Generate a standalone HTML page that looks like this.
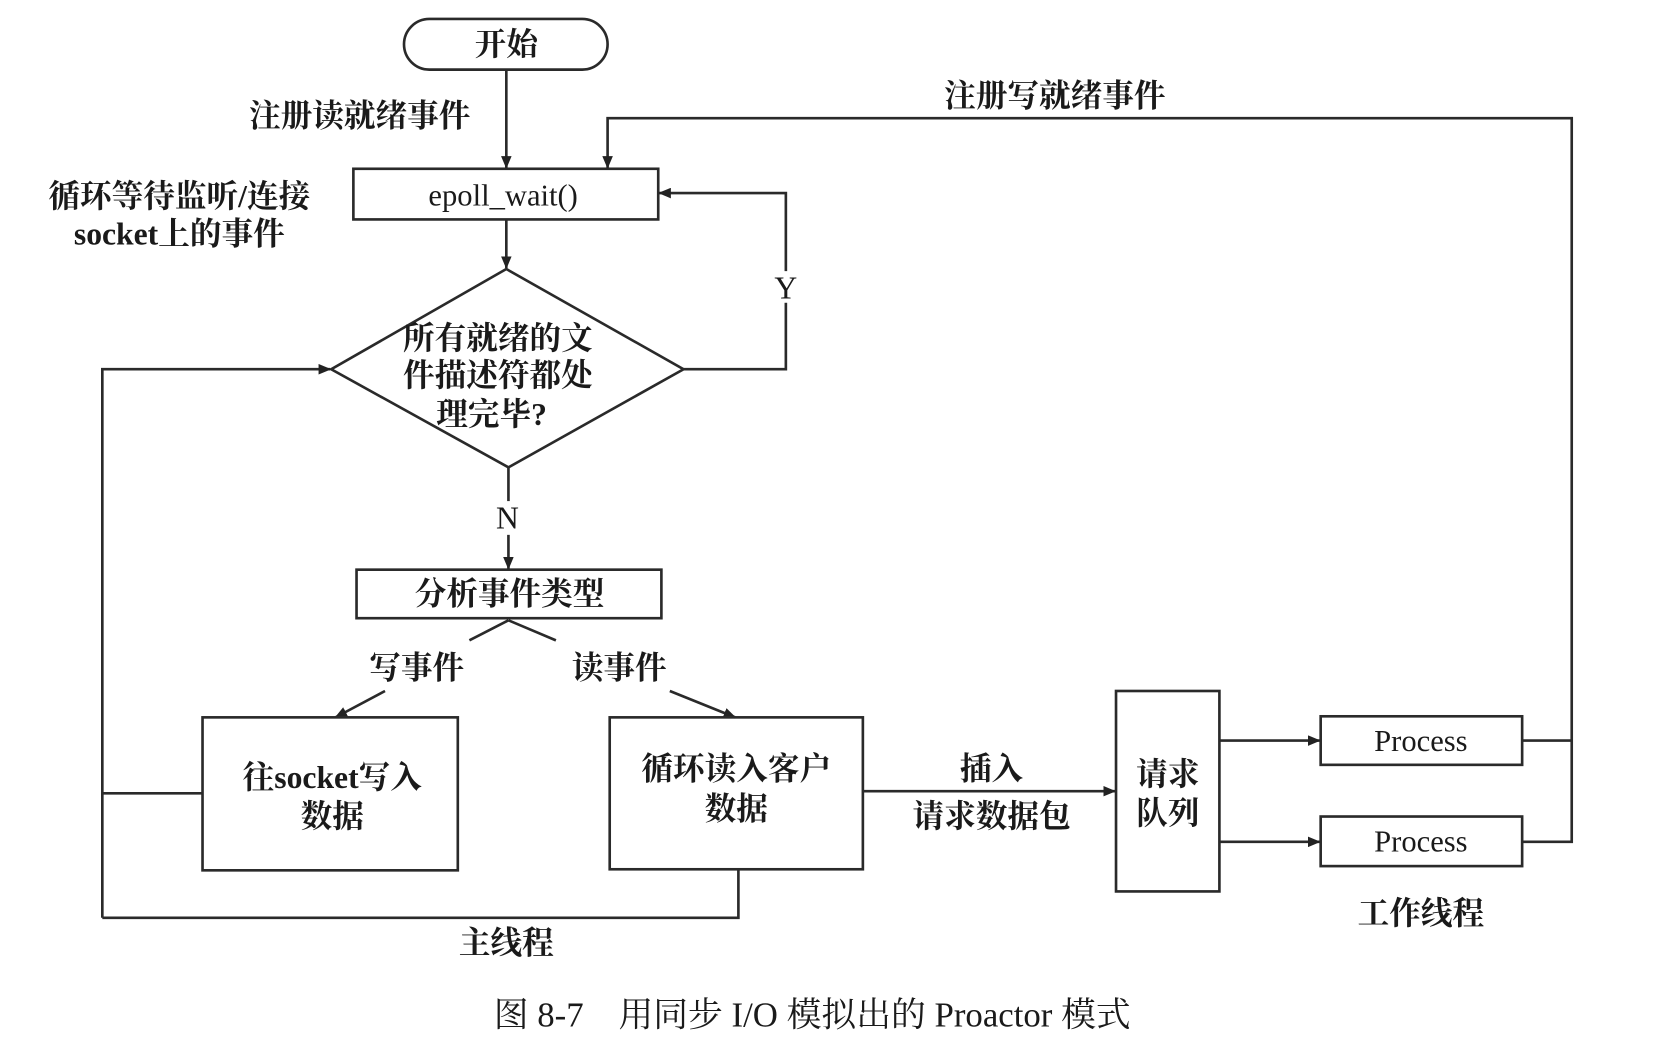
<!DOCTYPE html>
<html><head><meta charset="utf-8"><style>
html,body{margin:0;padding:0;background:#fff;}
svg{display:block;}
text{font-family:"Liberation Serif","Noto Serif CJK SC",serif;fill:#1a1a1a;}
.b{font-weight:bold;font-size:30px;}
</style></head><body>
<svg width="1654" height="1056" viewBox="0 0 1568 1001" preserveAspectRatio="none" xmlns="http://www.w3.org/2000/svg">
<defs><marker id="a" markerWidth="12" markerHeight="10" refX="11" refY="5" orient="auto" markerUnits="userSpaceOnUse"><path d="M0,0 L12,5 L0,10 z" fill="#222"/></marker></defs>
<g stroke="#2a2a2a" stroke-width="2.5" fill="none">
<rect x="383" y="18" width="193" height="48" rx="24"/>
<line x1="480" y1="66" x2="480" y2="159" marker-end="url(#a)"/>
<rect x="335" y="160" width="289" height="48"/>
<line x1="480" y1="208" x2="480" y2="254" marker-end="url(#a)"/>
<polygon points="480,255 648,350 482,443 314,350"/>
<polyline points="648,350 745,350 745,183 625,183" marker-end="url(#a)"/>
<line x1="482" y1="443" x2="482" y2="539" marker-end="url(#a)"/>
<rect x="338" y="540" width="289" height="46"/>
<line x1="482" y1="588" x2="445" y2="607"/>
<line x1="482" y1="588" x2="527" y2="607"/>
<line x1="365" y1="655" x2="318" y2="680" marker-end="url(#a)"/>
<line x1="635" y1="655" x2="697" y2="680" marker-end="url(#a)"/>
<rect x="192" y="680" width="242" height="145"/>
<rect x="578" y="680" width="240" height="144"/>
<polyline points="192,752 97,752"/>
<polyline points="97,870 97,350 313,350" marker-end="url(#a)"/>
<polyline points="97,870 700,870 700,824"/>
<line x1="818" y1="750" x2="1057" y2="750" marker-end="url(#a)"/>
<rect x="1058" y="655" width="98" height="190"/>
<line x1="1156" y1="702" x2="1251" y2="702" marker-end="url(#a)"/>
<line x1="1156" y1="798" x2="1251" y2="798" marker-end="url(#a)"/>
<rect x="1252" y="679" width="191" height="46"/>
<rect x="1252" y="774" width="191" height="47"/>
<polyline points="1443,702 1490,702"/>
<polyline points="1443,798 1490,798 1490,112 576,112 576,159" marker-end="url(#a)"/>
</g>
<rect x="733" y="257" width="24" height="30" fill="#fff"/>
<rect x="468" y="475" width="28" height="32" fill="#fff"/>
<g class="b" text-anchor="middle">
<text x="480" y="52">开始</text>
<text x="341" y="120">注册读就绪事件</text>
<text x="170" y="196">循环等待监听/连接</text>
<text x="170" y="232">socket上的事件</text>
<text x="477" y="195" font-weight="normal" font-size="29">epoll_wait()</text>
<text x="472" y="331">所有就绪的文</text>
<text x="472" y="366">件描述符都处</text>
<text x="466" y="403">理完毕?</text>
<text x="745" y="283" font-weight="normal">Y</text>
<text x="481" y="501" font-weight="normal">N</text>
<text x="483" y="573">分析事件类型</text>
<text x="395" y="643">写事件</text>
<text x="587" y="643">读事件</text>
<text x="315" y="747">往socket写入</text>
<text x="315" y="784">数据</text>
<text x="698" y="739">循环读入客户</text>
<text x="698" y="777">数据</text>
<text x="940" y="739">插入</text>
<text x="940" y="784">请求数据包</text>
<text x="1107" y="744">请求</text>
<text x="1107" y="781">队列</text>
<text x="1347" y="712" font-weight="normal" font-size="29">Process</text>
<text x="1347" y="807" font-weight="normal" font-size="29">Process</text>
<text x="1000" y="101">注册写就绪事件</text>
<text x="1347" y="876">工作线程</text>
<text x="480" y="904">主线程</text>
</g>
<text x="770" y="973" text-anchor="middle" font-size="33">图 8-7　用同步 I/O 模拟出的 Proactor 模式</text>
</svg>
</body></html>
